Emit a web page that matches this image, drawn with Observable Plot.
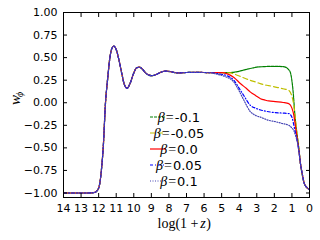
<!DOCTYPE html>
<html><head><meta charset="utf-8">
<script src="https://cdn.jsdelivr.net/npm/d3@7"></script>
<script src="https://cdn.jsdelivr.net/npm/@observablehq/plot@0.6"></script>
<style>body{margin:0;background:#fff}</style>
</head><body><div id="chart"></div>
<script>
// ---- data ----
const betaLabels = ["-0.1", "-0.05", "0.0", "0.05", "0.1"];
const colors = ["#008000", "#bfbf00", "#ff0000", "#0000ff", "#4646b4"];
const dashes = ["3,1", "5,3", null, "3,2,1,2", "1,1.5"];
const xTicks = [14, 13, 12, 11, 10, 9, 8, 7, 6, 5, 4, 3, 2, 1, 0];
const yTicks = [-1, -0.75, -0.5, -0.25, 0, 0.25, 0.5, 0.75, 1];

// shared early history (all beta identical)
const sharedX = [14, 13, 12.6, 12.3, 12.18, 12.05, 11.95, 11.84, 11.74, 11.61, 11.48, 11.36, 11.25, 11.14, 11.0, 10.85, 10.7, 10.55, 10.38, 10.2, 10.0, 9.85, 9.67, 9.5, 9.3, 9.0, 8.75, 8.5, 8.2, 7.9, 7.5, 7.0, 6.5, 6.0, 5.6];
const sharedY = [-1, -1, -1, -0.997, -0.99, -0.965, -0.91, -0.74, -0.5, 0.0, 0.28, 0.5, 0.6, 0.627, 0.59, 0.48, 0.34, 0.21, 0.16, 0.22, 0.33, 0.385, 0.394, 0.37, 0.325, 0.30, 0.31, 0.335, 0.35, 0.345, 0.33, 0.335, 0.337, 0.335, 0.333];

// late-time tails per beta
const tailX_m010 = [5.0, 4.5, 4.1, 3.7, 3.36, 3.0, 2.6, 2.2, 1.8, 1.5, 1.37, 1.2, 1.08, 0.95, 0.8, 0.64, 0.51, 0.32, 0.15, 0];
const tailY_m010 = [0.333, 0.335, 0.345, 0.365, 0.38, 0.395, 0.40, 0.403, 0.403, 0.40, 0.395, 0.37, 0.33, 0.16, -0.21, -0.45, -0.68, -0.88, -0.94, -0.96];
const tailX_m005 = [5.0, 4.5, 4.31, 3.8, 3.36, 3.07, 2.6, 2.32, 1.94, 1.5, 1.18, 1.0, 0.89, 0.8, 0.7, 0.6, 0.51, 0.4, 0.32, 0.15, 0];
const tailY_m005 = [0.333, 0.33, 0.32, 0.28, 0.248, 0.23, 0.20, 0.19, 0.174, 0.155, 0.137, 0.07, -0.03, -0.18, -0.36, -0.52, -0.68, -0.80, -0.88, -0.94, -0.96];
const tailX_000 = [5.0, 4.68, 4.3, 3.92, 3.6, 3.36, 3.07, 2.79, 2.5, 2.32, 1.94, 1.5, 1.18, 1.0, 0.89, 0.8, 0.7, 0.6, 0.51, 0.4, 0.32, 0.15, 0];
const tailY_000 = [0.333, 0.32, 0.28, 0.21, 0.16, 0.118, 0.08, 0.045, 0.028, 0.02, 0.012, 0.003, -0.01, -0.06, -0.14, -0.26, -0.40, -0.53, -0.68, -0.80, -0.88, -0.94, -0.96];
const tailX_p005 = [5.17, 4.7, 4.31, 4.0, 3.74, 3.36, 3.07, 2.79, 2.32, 1.94, 1.5, 1.18, 1.0, 0.89, 0.8, 0.7, 0.6, 0.51, 0.4, 0.32, 0.15, 0];
const tailY_p005 = [0.32, 0.30, 0.25, 0.16, 0.08, -0.03, -0.06, -0.08, -0.10, -0.11, -0.115, -0.12, -0.16, -0.25, -0.33, -0.42, -0.54, -0.68, -0.80, -0.88, -0.94, -0.96];
const tailX_p010 = [5.35, 4.8, 4.31, 4.0, 3.74, 3.36, 3.07, 2.79, 2.32, 1.94, 1.55, 1.18, 1.0, 0.89, 0.8, 0.7, 0.6, 0.51, 0.4, 0.32, 0.15, 0];
const tailY_p010 = [0.32, 0.29, 0.23, 0.13, 0.03, -0.10, -0.14, -0.16, -0.195, -0.21, -0.23, -0.25, -0.28, -0.31, -0.36, -0.43, -0.54, -0.68, -0.80, -0.88, -0.94, -0.96];

const tails = [[tailX_m010, tailY_m010], [tailX_m005, tailY_m005], [tailX_000, tailY_000], [tailX_p005, tailY_p005], [tailX_p010, tailY_p010]];

// ---- build tables ----
const seriesData = tails.map(([tx, ty], k) => {
  const n = sharedX.filter(v => v > tx[0]).length;
  const xs = sharedX.slice(0, n).concat(tx);
  const ys = sharedY.slice(0, n).concat(ty);
  return xs.map((x, i) => ({x, y: ys[i], beta: betaLabels[k]}));
});

const fmtY = d3.format(".2f");

const plot = Plot.plot({
  width: 320, height: 240,
  marginLeft: 63, marginRight: 11, marginTop: 12, marginBottom: 43,
  x: {domain: [14, 0]},
  y: {domain: [-1.05, 1.0]},
  style: {fontFamily: "DejaVu Sans", fontSize: "11px", background: "white", color: "black"},
  marks: [
    ...seriesData.map((data, k) => Plot.line(data, {
      x: "x", y: "y", stroke: colors[k], strokeWidth: 1.2,
      strokeDasharray: dashes[k] || undefined, curve: "monotone-x"
    })),
    Plot.frame({stroke: "black", strokeWidth: 1}),
    Plot.axisX({ticks: xTicks, tickSize: -4, tickPadding: 11, label: null, tickFormat: d => String(d)}),
    Plot.axisX({anchor: "top", ticks: xTicks, tickSize: -4, fill: "none", label: null}),
    Plot.axisY({ticks: yTicks, tickSize: -4, tickPadding: 10, label: null, tickFormat: fmtY}),
    Plot.axisY({anchor: "right", ticks: yTicks, tickSize: -4, fill: "none", label: null}),
    Plot.text(["w"], {text: d => d, frameAnchor: "left", lineAnchor: "middle", dx: -48, rotate: -90, fontStyle: "italic", fontFamily: "Liberation Serif", fontSize: 15}),
    Plot.text(["\u03D5"], {text: d => d, frameAnchor: "left", lineAnchor: "middle", dx: -44, dy: -8, rotate: -90, fontStyle: "italic", fontFamily: "Liberation Serif", fontSize: 10})
  ]
});

document.getElementById("chart").appendChild(plot);
const svg = d3.select(plot);

// x-axis label: log(1 + z) with italic z, as adjacent text pieces
const xl = svg.append("g").attr("font-family", "Liberation Serif").attr("font-size", 14).attr("fill", "black");
xl.append("text").attr("x", 198.5).attr("y", 228).attr("text-anchor", "end").text("log(1 +");
xl.append("text").attr("x", 203).attr("y", 228).attr("font-style", "italic").text("z");
xl.append("text").attr("x", 208.6).attr("y", 228).text(")");

// legend inside the frame
const lg = svg.append("g").attr("transform", "translate(150,117)");
betaLabels.forEach((b, k) => {
  const row = lg.append("g").attr("transform", `translate(0,${k * 16})`);
  row.append("line").attr("x1", 0).attr("x2", 16).attr("y1", 0).attr("y2", 0)
    .attr("stroke", colors[k]).attr("stroke-width", 1.2)
    .attr("stroke-dasharray", dashes[k] || null);
  const t = row.append("text").attr("x", 29).attr("dy", "0.35em")
    .attr("font-size", 13).attr("fill", "black");
  t.append("tspan").attr("font-family", "Liberation Serif").attr("font-style", "italic").attr("font-size", 14).text("\u03B2");
  t.append("tspan").attr("dx", 1).attr("font-family", "Liberation Serif").attr("font-size", 14).text("=");
  t.append("tspan").attr("dx", 1).attr("font-family", "DejaVu Sans").text(b);
});
</script>
</body></html>
